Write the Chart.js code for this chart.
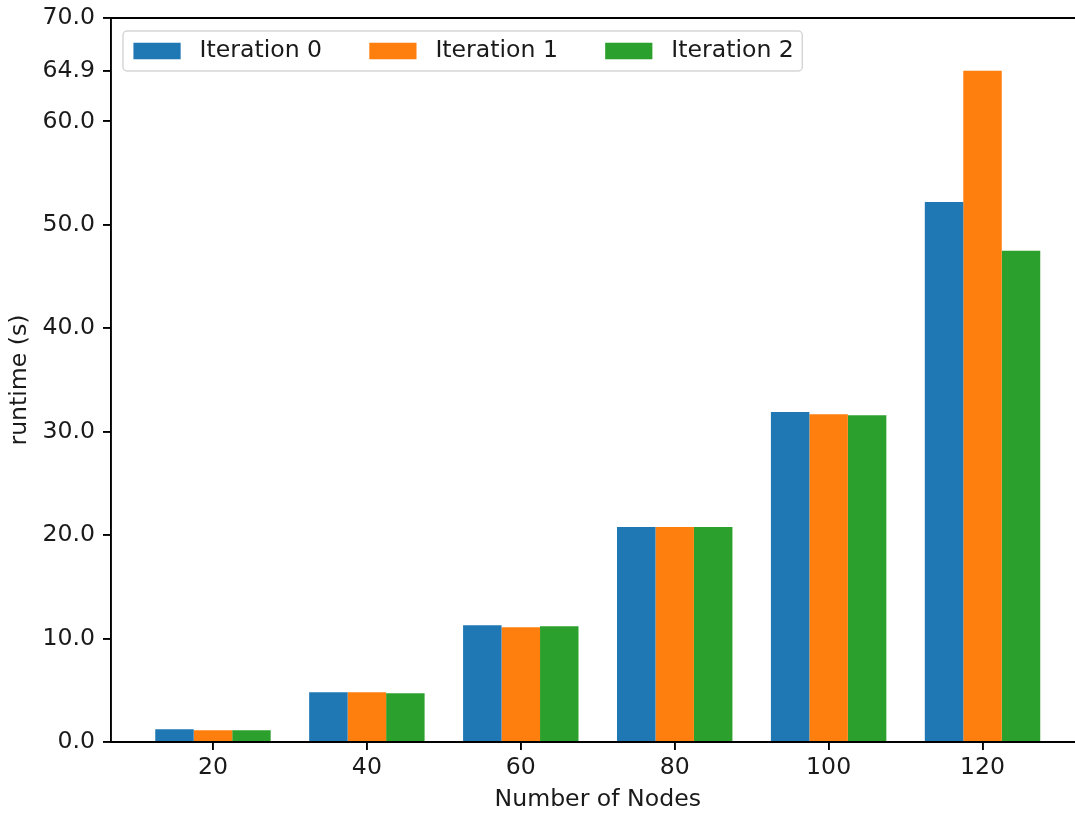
<!DOCTYPE html>
<html>
<head>
<meta charset="utf-8">
<script src="https://cdn.jsdelivr.net/npm/chart.js@4"></script>
<style>
  html, body { margin: 0; padding: 0; background: #fff; overflow: hidden; }
  canvas { display: block; }
</style>
</head>
<body>
<!-- the axes run a little past the right edge of the window, as in the reference -->
<canvas id="myChart" width="1090" height="814"></canvas>
<script>
// data
const nodes = [20, 40, 60, 80, 100, 120];
const iteration0 = [1.23, 4.81, 11.29, 20.78, 31.9, 52.2];
const iteration1 = [1.13, 4.81, 11.1, 20.78, 31.7, 64.9];
const iteration2 = [1.13, 4.71, 11.2, 20.78, 31.6, 47.5];
const seriesNames = ['Iteration 0', 'Iteration 1', 'Iteration 2'];
const seriesColors = ['#1f77b4', '#ff7f0e', '#2ca02c'];
const yTicks = [0, 10, 20, 30, 40, 50, 60, 64.9, 70];

const FONT = 'DejaVu Sans';
const FS = 23.6;
const INK = '#000';

function toPoints(vals) {
    return vals.map((v, i) => ({ x: nodes[i], y: v }));
}

const series = [iteration0, iteration1, iteration2];

// top spine + legend box drawn inside the plot, matplotlib style
const spinesAndLegend = {
    id: 'spinesAndLegend',
    afterDraw(chart) {
        const ctx = chart.ctx;
        const area = chart.chartArea;
        ctx.save();
        ctx.strokeStyle = INK;
        ctx.lineWidth = 1.9;
        ctx.beginPath();
        ctx.moveTo(area.left, area.top);
        ctx.lineTo(area.right, area.top);
        ctx.lineTo(area.right, area.bottom);
        ctx.stroke();

        ctx.font = FS + 'px "' + FONT + '"';
        const handleW = 2 * FS;
        const handleH = 0.7 * FS;
        const textPad = 0.8 * FS;
        const colSpace = 2 * FS;
        const borderPad = 0.4 * FS;

        const boxX = area.left + 12;
        const boxY = area.top + 13;
        let w = borderPad * 2;
        seriesNames.forEach((name, i) => {
            w += handleW + textPad + ctx.measureText(name).width;
            if (i < seriesNames.length - 1) w += colSpace;
        });
        const h = 40;

        ctx.beginPath();
        ctx.roundRect(boxX, boxY, w, h, 4);
        ctx.fillStyle = 'rgba(255,255,255,0.8)';
        ctx.fill();
        ctx.strokeStyle = '#d6d6d6';
        ctx.lineWidth = 1.5;
        ctx.stroke();

        let x = boxX + borderPad + 1;
        const midY = boxY + h / 2;
        ctx.textBaseline = 'middle';
        ctx.textAlign = 'left';
        seriesNames.forEach((name, i) => {
            ctx.fillStyle = seriesColors[i];
            ctx.fillRect(x, midY - handleH / 2, handleW, handleH);
            x += handleW + textPad;
            ctx.fillStyle = '#1a1a1a';
            ctx.fillText(name, x, midY);
            x += ctx.measureText(name).width + colSpace;
        });
        ctx.restore();
    }
};

const ctx = document.getElementById('myChart').getContext('2d');
new Chart(ctx, {
    type: 'bar',
    data: {
        datasets: series.map((vals, i) => ({
            label: seriesNames[i],
            data: toPoints(vals),
            backgroundColor: seriesColors[i],
            borderWidth: 0
        }))
    },
    options: {
        responsive: false,
        animation: false,
        devicePixelRatio: 1,
        categoryPercentage: 0.75,
        barPercentage: 1.0,
        layout: { padding: { top: 18, right: 5.5, left: 0, bottom: 0 } },
        plugins: {
            legend: { display: false },
            tooltip: { enabled: false }
        },
        scales: {
            x: {
                type: 'linear',
                position: 'bottom',
                min: 6.75,
                max: 133.25,
                offset: false,
                grid: {
                    offset: false,
                    drawOnChartArea: false,
                    drawTicks: true,
                    tickLength: 8,
                    color: INK,
                    tickColor: INK,
                    lineWidth: 1.9,
                    tickWidth: 1.9
                },
                border: { display: true, color: INK, width: 1.9 },
                ticks: {
                    color: '#1a1a1a',
                    font: { family: FONT, size: FS },
                    padding: 4,
                    autoSkip: false,
                    maxRotation: 0,
                    callback: v => String(v)
                },
                afterBuildTicks: scale => {
                    scale.ticks = nodes.map(v => ({ value: v }));
                },
                afterFit: scale => {
                    scale.height = 72;
                    scale.paddingLeft = 0;
                    scale.paddingRight = 0;
                },
                title: {
                    display: true,
                    text: 'Number of Nodes',
                    color: '#1a1a1a',
                    font: { family: FONT, size: FS },
                    padding: { top: 0, bottom: 0 }
                }
            },
            y: {
                min: 0,
                max: 70,
                grid: {
                    drawOnChartArea: false,
                    drawTicks: true,
                    tickLength: 8,
                    color: INK,
                    tickColor: INK,
                    lineWidth: 1.9,
                    tickWidth: 1.9
                },
                border: { display: true, color: INK, width: 1.9 },
                ticks: {
                    color: '#1a1a1a',
                    font: { family: FONT, size: FS },
                    padding: 8,
                    autoSkip: false,
                    callback: v => Number(v).toFixed(1)
                },
                afterBuildTicks: scale => {
                    scale.ticks = yTicks.map(v => ({ value: v }));
                },
                afterFit: scale => {
                    scale.width = 111;
                    scale.paddingTop = 0;
                    scale.paddingBottom = 0;
                },
                title: {
                    display: true,
                    text: 'runtime (s)',
                    color: '#1a1a1a',
                    font: { family: FONT, size: FS },
                    padding: { top: 6, bottom: 0 }
                }
            }
        }
    },
    plugins: [spinesAndLegend]
});
</script>
</body>
</html>
